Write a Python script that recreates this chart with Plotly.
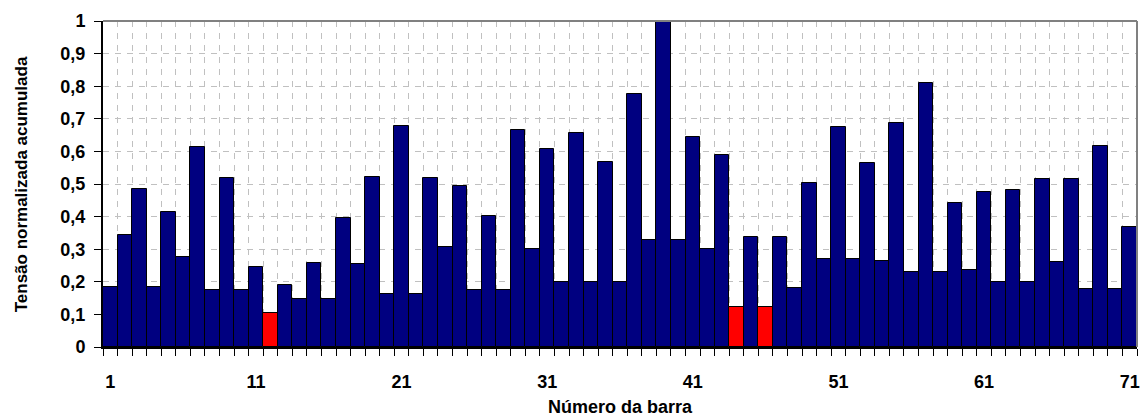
import plotly.graph_objects as go

barras = list(range(1, 72))
tensao = [
    0.184, 0.345, 0.485, 0.184, 0.414, 0.276, 0.613, 0.174, 0.519, 0.174,
    0.246, 0.104, 0.189, 0.146, 0.259, 0.146, 0.395, 0.254, 0.522, 0.163,
    0.677, 0.163, 0.519, 0.308, 0.493, 0.174, 0.403, 0.174, 0.667, 0.301,
    0.608, 0.198, 0.657, 0.198, 0.566, 0.198, 0.775, 0.327, 1.0, 0.327,
    0.644, 0.301, 0.588, 0.123, 0.337, 0.123, 0.337, 0.182, 0.504, 0.270,
    0.675, 0.270, 0.563, 0.264, 0.686, 0.229, 0.810, 0.229, 0.442, 0.237,
    0.474, 0.200, 0.481, 0.200, 0.514, 0.260, 0.514, 0.179, 0.616, 0.179,
    0.367,
]
barras_destaque = [12, 44, 46]

x_ticks = [1, 11, 21, 31, 41, 51, 61, 71]
y_ticks = [0, 0.1, 0.2, 0.3, 0.4, 0.5, 0.6, 0.7, 0.8, 0.9, 1]
y_labels = ["0", "0,1", "0,2", "0,3", "0,4", "0,5", "0,6", "0,7", "0,8", "0,9", "1"]

cores = ["#FF0000" if b in barras_destaque else "#000080" for b in barras]

fonte = "Liberation Sans, Arial, sans-serif"

fig = go.Figure(
    go.Bar(
        x=barras,
        y=tensao,
        width=1,
        marker=dict(color=cores, line=dict(color="black", width=1)),
    )
)

fig.update_layout(
    width=1143,
    height=418,
    margin=dict(l=103, r=3, t=21, b=71),
    plot_bgcolor="white",
    paper_bgcolor="white",
    showlegend=False,
    bargap=0,
    font=dict(family=fonte, color="black"),
    xaxis=dict(
        range=[0.5, 71.5],
        tickvals=x_ticks,
        ticks="",
        showgrid=False,
        zeroline=False,
        showline=True,
        linecolor="black",
        linewidth=2,
        ticklabelstandoff=17,
        tickfont=dict(size=18, family=fonte, weight="bold"),
        minor=dict(
            tick0=0.5,
            dtick=1,
            ticks="outside",
            ticklen=7,
            tickcolor="black",
            showgrid=True,
            gridcolor="#c0c0c0",
            griddash="6px,6px",
            gridwidth=1,
        ),
    ),
    yaxis=dict(
        range=[0, 1],
        tickvals=y_ticks,
        ticktext=y_labels,
        ticks="outside",
        ticklen=7,
        tickcolor="black",
        showgrid=True,
        gridcolor="#c0c0c0",
        griddash="6px,6px",
        gridwidth=1,
        zeroline=False,
        showline=True,
        linecolor="black",
        linewidth=2,
        ticklabelstandoff=5,
        tickfont=dict(size=18, family=fonte, weight="bold"),
    ),
    shapes=[
        dict(type="line", xref="paper", yref="paper", x0=0, x1=1, y0=1, y1=1,
             line=dict(color="#808080", width=2)),
        dict(type="line", xref="paper", yref="paper", x0=1, x1=1, y0=0, y1=1,
             line=dict(color="#808080", width=2)),
    ],
    annotations=[
        dict(text="<b>Número da barra</b>", xref="paper", yref="paper",
             x=0.5, y=-0.222, showarrow=False, font=dict(size=18, family=fonte),
             xanchor="center", yanchor="bottom"),
        dict(text="<b>Tensão normalizada acumulada</b>", xref="paper", yref="paper",
             x=-0.079, y=0.5, showarrow=False, textangle=-90,
             font=dict(size=17, family=fonte), xanchor="center", yanchor="middle"),
    ],
)

# drop the default page margin so the figure fills the window exactly
fig.write_html(
    "out.html",
    config={"displayModeBar": False},
    post_script="document.body.style.margin='0';document.body.style.overflow='hidden';",
)
